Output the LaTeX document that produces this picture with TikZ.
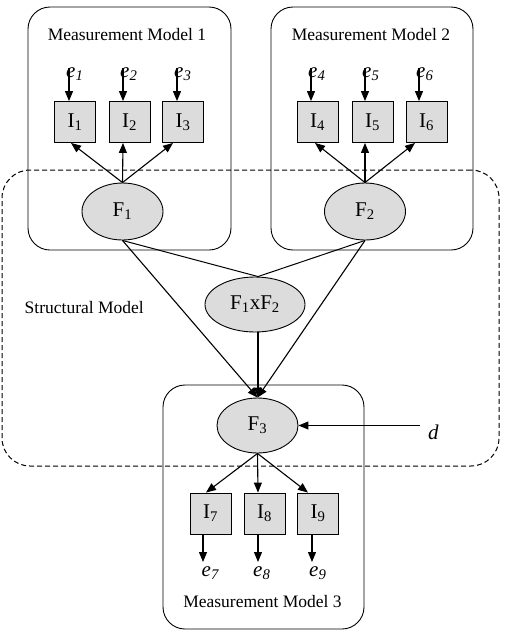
\documentclass[tikz,border=0pt]{standalone}
\usepackage{fontspec}
\setmainfont{Liberation Serif}
\usetikzlibrary{arrows.meta,shapes.geometric}
\definecolor{nodegray}{HTML}{DCDCDC}
\begin{document}
\begin{tikzpicture}[x=1pt,y=-1pt,
  arr/.style={-{Triangle[length=10pt,width=8pt]},line width=1.1pt},
  ln/.style={line width=1pt},
  ind/.style={draw,line width=0.9pt,fill=nodegray,minimum width=41pt,minimum height=41pt,inner sep=0pt,font=\fontsize{21}{24}\selectfont},
  lat/.style={ellipse,draw,line width=0.9pt,fill=nodegray,inner sep=0pt,font=\fontsize{21}{24}\selectfont},
  err/.style={font=\fontsize{21}{24}\selectfont\itshape,anchor=base west,inner sep=0pt},
  mbox/.style={draw,line width=0.9pt,rounded corners=22pt,inner sep=0pt},
  title/.style={font=\fontsize{17.5}{20}\selectfont,inner sep=0pt}]
\useasboundingbox (0,0) rectangle (507,633);

% frames
\node[mbox,minimum width=203pt,minimum height=243pt] (mm1) at (129.5,128.5) {};
\node[mbox,minimum width=202pt,minimum height=243pt] (mm2) at (372,128.5) {};
\node[mbox,minimum width=201pt,minimum height=244pt] (mm3) at (263.5,507) {};
\node[draw,line width=1pt,dash pattern=on 5pt off 3pt,rounded corners=28pt,minimum width=497pt,minimum height=296pt,inner sep=0pt] (sm) at (250.5,318) {};

% titles
\node[title,anchor=base] (t1) at (127,40) {Measurement Model 1};
\node[title,anchor=base] (t2) at (371,40) {Measurement Model 2};
\node[title,anchor=base] (t3) at (262.5,607) {Measurement Model 3};
\node[title,anchor=base east] (ts) at (144,313) {Structural Model};

% indicators
\node[ind] (I1) at (75,122) {I\textsubscript{1}};
\node[ind] (I2) at (129.5,122) {I\textsubscript{2}};
\node[ind] (I3) at (183,122) {I\textsubscript{3}};
\node[ind] (I4) at (317.5,122) {I\textsubscript{4}};
\node[ind] (I5) at (372.5,122) {I\textsubscript{5}};
\node[ind] (I6) at (426.5,122) {I\textsubscript{6}};
\node[ind] (I7) at (210.5,513.5) {I\textsubscript{7}};
\node[ind] (I8) at (264.5,513.5) {I\textsubscript{8}};
\node[ind] (I9) at (318,513.5) {I\textsubscript{9}};

% latent factors
\node[lat,minimum width=81pt,minimum height=57pt] (F1) at (122.5,211.5) {F\textsubscript{1}};
\node[lat,minimum width=81pt,minimum height=57pt] (F2) at (365,211.5) {F\textsubscript{2}};
\node[lat,minimum width=100pt,minimum height=55pt] (F12) at (255,304.5) {F\textsubscript{1}xF\textsubscript{2}};
\node[lat,minimum width=81pt,minimum height=55pt] (F3) at (257.5,425.5) {F\textsubscript{3}};

% error labels
\node[err] (e1) at (66,77) {e\textsubscript{1}};
\node[err] (e2) at (120,77) {e\textsubscript{2}};
\node[err] (e3) at (174,77) {e\textsubscript{3}};
\node[err] (e4) at (308,77) {e\textsubscript{4}};
\node[err] (e5) at (362,77) {e\textsubscript{5}};
\node[err] (e6) at (416,77) {e\textsubscript{6}};
\node[err] (e7) at (201.5,576) {e\textsubscript{7}};
\node[err] (e8) at (253,576) {e\textsubscript{8}};
\node[err] (e9) at (309,576) {e\textsubscript{9}};
\node[err] (d) at (428,439) {d};

% error arrow tails
\coordinate (s1) at (69,68);
\coordinate (s2) at (123,68);
\coordinate (s3) at (177,68);
\coordinate (s4) at (311,68);
\coordinate (s5) at (365,68);
\coordinate (s6) at (419,68);
\coordinate (s7) at (203,562);
\coordinate (s8) at (258,562);
\coordinate (s9) at (312,562);
\coordinate (sd) at (420,425.5);

\foreach \i in {1,...,6} \draw[arr] (s\i) -- (s\i |- I\i.north);
\foreach \i in {7,8,9} \draw[arr] (s\i |- I\i.south) -- (s\i);
\draw[arr] (sd) -- (F3.east);

% loadings
\draw[arr] (F1.north) -- ([xshift=-4pt]I1.south);
\draw[arr] (F1.north) -- ([xshift=-6.5pt]I2.south);
\draw[arr] (F1.north) -- ([xshift=-10pt]I3.south);
\draw[arr] (F2.north) -- ([xshift=-2.5pt]I4.south);
\draw[arr] (F2.north) -- ([xshift=-7.5pt]I5.south);
\draw[arr] (F2.north) -- ([xshift=-11.5pt]I6.south);
\draw[arr] (F3.south) -- ([xshift=-4.5pt]I7.north);
\draw[arr] (F3.south) -- ([xshift=-6.5pt]I8.north);
\draw[arr] (F3.south) -- ([xshift=-10pt]I9.north);

% structural part
\draw[ln] (F1.south) -- ([xshift=3pt]F12.north);
\draw[ln] (F2.south) -- ([xshift=3pt]F12.north);
\draw[arr] (F1.south) -- (F3.north);
\draw[arr] (F2.south) -- (F3.north);
\draw[arr] ([xshift=3pt]F12.south) -- ([xshift=0.5pt]F3.north);
\end{tikzpicture}
\end{document}
